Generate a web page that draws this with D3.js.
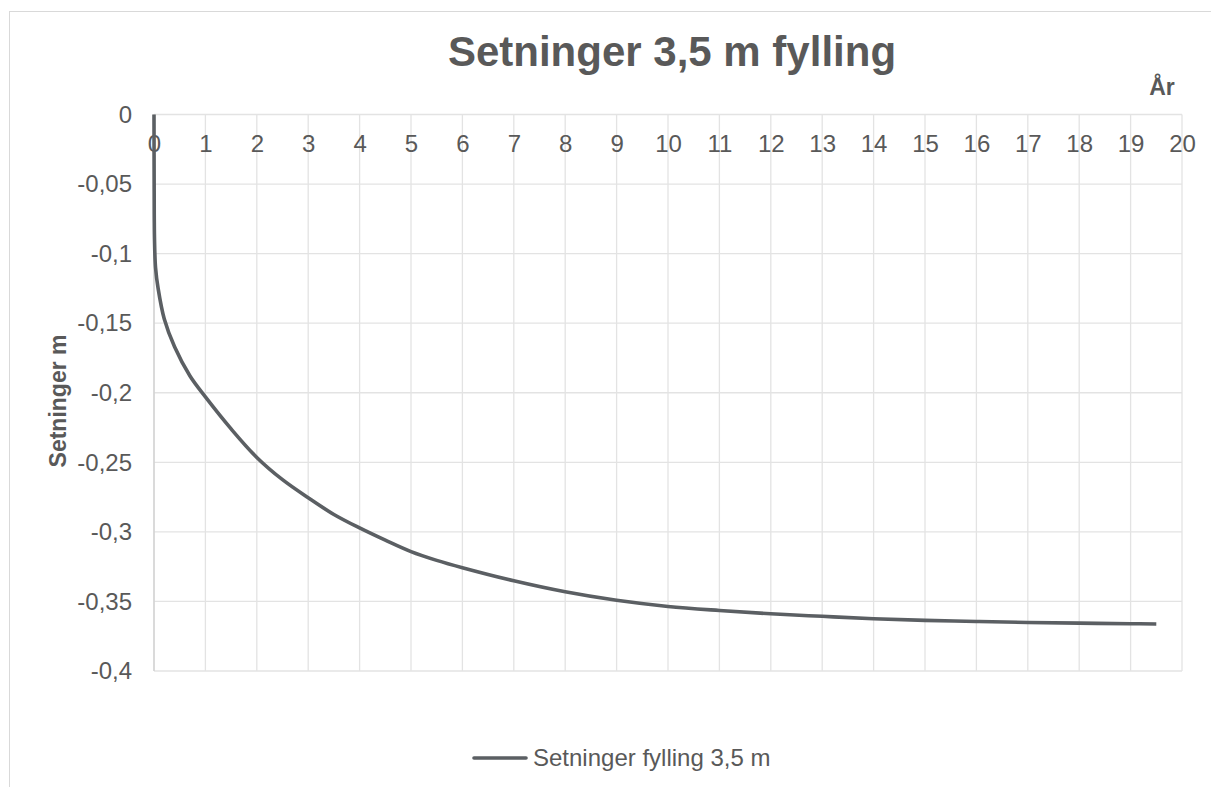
<!DOCTYPE html>
<html><head><meta charset="utf-8">
<script src="https://cdn.jsdelivr.net/npm/d3@7"></script>
<style>body{margin:0;background:#fff;}svg{display:block;font-family:"Liberation Sans",Arial,sans-serif;}</style>
</head><body>
<svg id="c" width="1211" height="787"></svg>
<script>
const title = "Setninger 3,5 m fylling";
const seriesName = "Setninger fylling 3,5 m";
const xTitle = "År";
const yTitle = "Setninger m";
const years = [0, 0.003, 0.01, 0.03, 0.08, 0.2, 0.4, 0.7, 1, 1.5, 2, 2.5, 3, 3.5, 4, 4.5, 5, 5.5, 6, 7, 8, 9, 10, 11, 12, 13, 14, 15, 16, 17, 18, 19, 19.5];
const settlement = [0, -0.05, -0.09, -0.11, -0.125, -0.147, -0.167, -0.188, -0.203, -0.226, -0.2465, -0.2625, -0.2755, -0.2875, -0.2972, -0.306, -0.3142, -0.3205, -0.3258, -0.3352, -0.3431, -0.3492, -0.3536, -0.3565, -0.3589, -0.3607, -0.3624, -0.3636, -0.3644, -0.3651, -0.3656, -0.366, -0.3662];
const xTicks = d3.range(0, 21, 1);
const yTicks = [0, -0.05, -0.1, -0.15, -0.2, -0.25, -0.3, -0.35, -0.4];

const svg = d3.select("#c");
const textCol = "#595959", lineCol = "#5b5f63", gridCol = "#e3e3e3";
const fmt = d => d === 0 ? "0" : String(d).replace(".", ",");

svg.append("rect").attr("x", 9.5).attr("y", 11.5).attr("width", 1300).attr("height", 900)
  .attr("fill", "#fff").attr("stroke", "#d9d9d9").attr("stroke-width", 1);

const x = d3.scaleLinear().domain([0, 20]).range([154, 1182]);
const y = d3.scaleLinear().domain([0, -0.4]).range([114.5, 671]);

const g = svg.append("g");
g.selectAll("line.v").data(xTicks).join("line")
  .attr("x1", d => x(d)).attr("x2", d => x(d)).attr("y1", y(0)).attr("y2", y(-0.4))
  .attr("stroke", gridCol).attr("stroke-width", 1.3);
g.selectAll("line.h").data(yTicks).join("line")
  .attr("x1", x(0)).attr("x2", x(20)).attr("y1", d => y(d)).attr("y2", d => y(d))
  .attr("stroke", gridCol).attr("stroke-width", 1.3);
g.append("line").attr("x1", x(0)).attr("x2", x(0)).attr("y1", y(0)).attr("y2", y(-0.4))
  .attr("stroke", "#cfcfcf").attr("stroke-width", 1.3);

const xAxis = svg.append("g").attr("transform", `translate(0,${y(0)})`)
  .call(d3.axisBottom(x).tickValues(xTicks).tickFormat(fmt).tickSize(0).tickPadding(20));
xAxis.select(".domain").remove();
xAxis.selectAll("text").attr("fill", textCol).attr("font-size", 24).attr("font-family", "Liberation Sans, Arial, sans-serif");

const yAxis = svg.append("g").attr("transform", `translate(${x(0)},0)`)
  .call(d3.axisLeft(y).tickValues(yTicks).tickFormat(fmt).tickSize(0).tickPadding(22));
yAxis.select(".domain").remove();
yAxis.selectAll("text").attr("fill", textCol).attr("font-size", 24).attr("font-family", "Liberation Sans, Arial, sans-serif");

const pts = years.map((t, i) => [t, settlement[i]]);
svg.append("path").datum(pts)
  .attr("d", d3.line().x(d => x(d[0])).y(d => y(d[1])).curve(d3.curveCatmullRom.alpha(0.5)))
  .attr("fill", "none").attr("stroke", lineCol).attr("stroke-width", 3.6).attr("stroke-linecap", "butt");

svg.append("text").attr("x", 672).attr("y", 66).attr("text-anchor", "middle")
  .attr("font-size", 42).attr("font-weight", "bold").attr("fill", textCol).text(title);
svg.append("text").attr("x", 1162).attr("y", 95).attr("text-anchor", "middle")
  .attr("font-size", 23).attr("font-weight", "bold").attr("fill", textCol).text(xTitle);
svg.append("text").attr("transform", "translate(66,401) rotate(-90)").attr("text-anchor", "middle")
  .attr("font-size", 23).attr("font-weight", "bold").attr("fill", textCol).text(yTitle);

svg.append("line").attr("x1", 474).attr("x2", 526).attr("y1", 758).attr("y2", 758)
  .attr("stroke", lineCol).attr("stroke-width", 3.6).attr("stroke-linecap", "round");
svg.append("text").attr("x", 533).attr("y", 766).attr("font-size", 24).attr("fill", textCol).text(seriesName);
</script>
</body></html>
